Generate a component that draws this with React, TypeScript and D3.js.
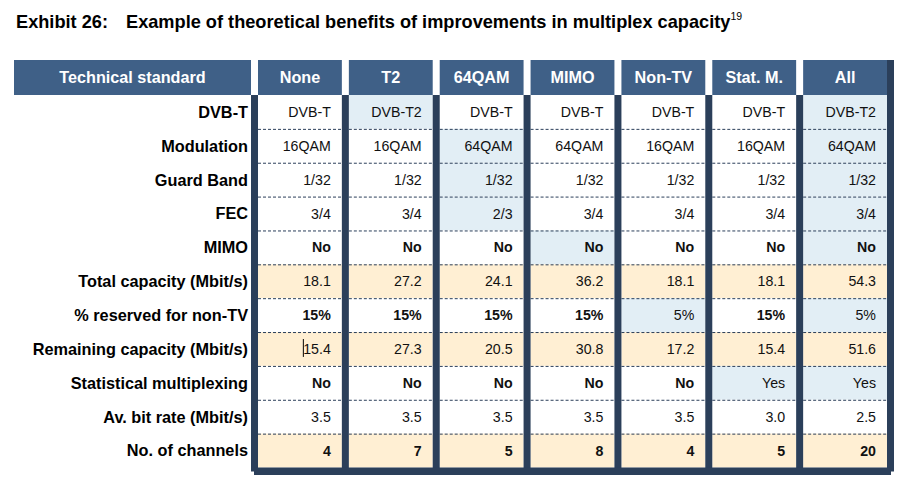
import React from "react";
import * as d3 from "d3";

const columns = ["None", "T2", "64QAM", "MIMO", "Non-TV", "Stat. M.", "All"];
const rowLabels = [
  "DVB-T",
  "Modulation",
  "Guard Band",
  "FEC",
  "MIMO",
  "Total capacity (Mbit/s)",
  "% reserved for non-TV",
  "Remaining capacity (Mbit/s)",
  "Statistical multiplexing",
  "Av. bit rate (Mbit/s)",
  "No. of channels",
];
const standardRow = ["DVB-T", "DVB-T2", "DVB-T", "DVB-T", "DVB-T", "DVB-T", "DVB-T2"];
const modulationRow = ["16QAM", "16QAM", "64QAM", "64QAM", "16QAM", "16QAM", "64QAM"];
const guardBandRow = ["1/32", "1/32", "1/32", "1/32", "1/32", "1/32", "1/32"];
const fecRow = ["3/4", "3/4", "2/3", "3/4", "3/4", "3/4", "3/4"];
const mimoRow = ["No", "No", "No", "No", "No", "No", "No"];
const totalCapacity = [18.1, 27.2, 24.1, 36.2, 18.1, 18.1, 54.3];
const reservedPct = [15, 15, 15, 15, 5, 15, 5];
const remainingCapacity = [15.4, 27.3, 20.5, 30.8, 17.2, 15.4, 51.6];
const statMuxRow = ["No", "No", "No", "No", "No", "Yes", "Yes"];
const avBitRate = [3.5, 3.5, 3.5, 3.5, 3.5, 3.0, 2.5];
const channels = [4, 7, 5, 8, 4, 5, 20];

// highlighted (changed) cells: [row, col]
const highlighted: [number, number][] = [
  [0, 1], [0, 6],
  [1, 2], [1, 6],
  [2, 2], [2, 6],
  [3, 2], [3, 6],
  [4, 3], [4, 6],
  [6, 4], [6, 6],
  [8, 5], [8, 6],
];
const resultRows = [5, 7, 10];

const BLUE = "#E2EEF5";
const ORANGE = "#FFEFD3";
const DARK = "#2B3F5A";
const HEADER = "#3F6087";
const FONT = "'Liberation Sans', Arial, sans-serif";

function cellText(r: number, c: number): { text: string; bold: boolean } {
  switch (r) {
    case 0: return { text: standardRow[c], bold: false };
    case 1: return { text: modulationRow[c], bold: false };
    case 2: return { text: guardBandRow[c], bold: false };
    case 3: return { text: fecRow[c], bold: false };
    case 4: return { text: mimoRow[c], bold: true };
    case 5: return { text: d3.format(".1f")(totalCapacity[c]), bold: false };
    case 6: return { text: reservedPct[c] + "%", bold: reservedPct[c] === 15 };
    case 7: return { text: d3.format(".1f")(remainingCapacity[c]), bold: false };
    case 8: return { text: statMuxRow[c], bold: statMuxRow[c] === "No" };
    case 9: return { text: d3.format(".1f")(avBitRate[c]), bold: false };
    default: return { text: String(channels[c]), bold: true };
  }
}

export default function App() {
  const W = 910;
  const H = 489;
  const x = d3.scaleBand<string>().domain(columns).range([251, 887]);
  const y = d3.scaleBand<string>().domain(rowLabels).range([95, 467.5]);
  const gap = 7;
  const cw = x.bandwidth() - gap;
  const rh = y.bandwidth();
  const headerTop = 60;
  const headerBottom = 95;
  const labelLeft = 14;
  const labelRight = 251;
  const bottom = 467.5;

  const fillFor = (r: number, c: number) => {
    if (highlighted.some(([hr, hc]) => hr === r && hc === c)) return BLUE;
    if (resultRows.includes(r)) return ORANGE;
    return "#ffffff";
  };

  return (
    <svg width={W} height={H} style={{ position: "absolute", left: 0, top: 0, background: "#fff" }}>
      {/* Title */}
      <text x={16} y={28} fontFamily={FONT} fontWeight="bold" fontSize={18.2} fill="#000">
        <tspan>Exhibit 26:</tspan>
        <tspan x={126}>Example of theoretical benefits of improvements in multiplex capacity</tspan>
        <tspan fontSize={10.5} dy={-8} fontWeight="normal">19</tspan>
      </text>

      {/* Header */}
      <rect x={labelLeft} y={headerTop} width={labelRight - labelLeft} height={headerBottom - headerTop} fill={HEADER} />
      <text x={(labelLeft + labelRight) / 2} y={(headerTop + headerBottom) / 2} dy="0.36em" textAnchor="middle"
        fontFamily={FONT} fontWeight="bold" fontSize={16.2} fill="#fff">Technical standard</text>
      {columns.map((c) => (
        <g key={c}>
          <rect x={x(c)! + gap} y={headerTop} width={cw} height={headerBottom - headerTop} fill={HEADER} />
          <text x={x(c)! + gap + cw / 2} y={(headerTop + headerBottom) / 2} dy="0.36em" textAnchor="middle"
            fontFamily={FONT} fontWeight="bold" fontSize={16.2} fill="#fff">{c}</text>
        </g>
      ))}

      {/* Cells */}
      {rowLabels.map((lab, r) => (
        <g key={lab}>
          <text x={labelRight - 3} y={y(lab)! + rh / 2} dy="0.36em" textAnchor="end"
            fontFamily={FONT} fontWeight="bold" fontSize={16.3} fill="#000">{lab}</text>
          {columns.map((c, ci) => {
            const t = cellText(r, ci);
            const cx = x(c)! + gap;
            return (
              <g key={c}>
                <rect x={cx} y={y(lab)!} width={cw} height={rh} fill={fillFor(r, ci)} />
                <text x={cx + cw - 11} y={y(lab)! + rh / 2} dy="0.36em" textAnchor="end"
                  fontFamily={FONT} fontWeight={t.bold ? "bold" : "normal"} fontSize={14.2} fill="#111">{t.text}</text>
                {r > 0 && (
                  <line x1={cx} x2={cx + cw} y1={y(lab)! + 0.5} y2={y(lab)! + 0.5}
                    stroke={DARK} strokeWidth={1} strokeDasharray="3,2" />
                )}
                {r === 7 && ci === 0 && (
                  <line x1={cx + cw - 38.5} x2={cx + cw - 38.5} y1={y(lab)! + 7} y2={y(lab)! + rh - 9}
                    stroke="#000" strokeWidth={1} />
                )}
              </g>
            );
          })}
        </g>
      ))}

      {/* Dark separators */}
      {columns.map((c) => (
        <rect key={"sep" + c} x={x(c)!} y={headerBottom} width={gap} height={bottom + 4 - headerBottom} fill={DARK} />
      ))}
      <rect x={x(columns[columns.length - 1])! + x.bandwidth()} y={headerTop} width={gap} height={bottom + 4 - headerTop} fill={DARK} />
      <rect x={x(columns[0])! + 3} y={bottom} width={x(columns[columns.length - 1])! + x.bandwidth() + 4 - x(columns[0])! - 3} height={gap + 0.5} fill={DARK} />
    </svg>
  );
}
